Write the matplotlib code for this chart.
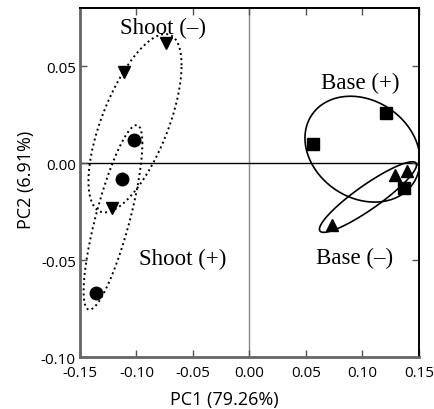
import numpy as np
import matplotlib
matplotlib.use("Agg")
import matplotlib.pyplot as plt

# PCA scores
shoot_minus_x = [-0.074, -0.111, -0.122]
shoot_minus_y = [0.062, 0.047, -0.023]
shoot_plus_x = [-0.102, -0.113, -0.136]
shoot_plus_y = [0.012, -0.008, -0.067]
base_plus_x = [0.121, 0.056, 0.137]
base_plus_y = [0.026, 0.010, -0.013]
base_minus_x = [0.129, 0.139, 0.073]
base_minus_y = [-0.006, -0.004, -0.032]

# group ellipses: centre x, centre y, half-extent x, half-extent y, correlation
ell_cx = [-0.1013, -0.1208, 0.1000, 0.1049]
ell_cy = [0.0206, -0.0280, 0.0072, -0.0175]
ell_rx = [0.0412, 0.0260, 0.0509, 0.0430]
ell_ry = [0.0460, 0.0476, 0.0273, 0.0182]
ell_rho = [0.65, 0.80, -0.21, 0.91]
ell_style = [":", ":", "-", "-"]

group_labels = ["Shoot (\u2013)", "Shoot (+)", "Base (+)", "Base (\u2013)"]
label_x = [-0.0765, -0.0588, 0.0978, 0.0934]
label_y = [0.0700, -0.0490, 0.0418, -0.0485]

x_ticks = [-0.15, -0.10, -0.05, 0.00, 0.05, 0.10, 0.15]
y_ticks = [-0.10, -0.05, 0.00, 0.05]

fig = plt.figure(figsize=(4.34, 4.10), dpi=100)
ax = fig.add_axes([0.1843, 0.1268, 0.7811, 0.8512])

ax.axvline(0, color="#888888", lw=1.0, zorder=1)
ax.axhline(0, color="black", lw=1.0, zorder=1)

t = np.linspace(0, 2 * np.pi, 300)
for cx, cy, rx, ry, rho, ls in zip(ell_cx, ell_cy, ell_rx, ell_ry, ell_rho, ell_style):
    ex = cx + rx * np.cos(t)
    ey = cy + ry * (rho * np.cos(t) + np.sqrt(1 - rho ** 2) * np.sin(t))
    ax.plot(ex, ey, color="black", ls=ls, lw=1.4 if ls == ":" else 1.2, zorder=2)

ax.plot(shoot_minus_x, shoot_minus_y, "v", color="black", ms=9, zorder=3)
ax.plot(shoot_plus_x, shoot_plus_y, "o", color="black", ms=9, zorder=3)
ax.plot(base_plus_x, base_plus_y, "s", color="black", ms=8, zorder=3)
ax.plot(base_minus_x, base_minus_y, "^", color="black", ms=9, zorder=3)

for lab, lx, ly in zip(group_labels, label_x, label_y):
    ax.text(lx, ly, lab, family="Liberation Serif", fontsize=16.5,
            ha="center", va="center", zorder=4)

ax.set_xlim(-0.15, 0.15)
ax.set_ylim(-0.10, 0.08)
ax.set_xticks(x_ticks)
ax.set_yticks(y_ticks)
ax.set_xticklabels([f"{v:.2f}" for v in x_ticks], family="Open Sans", fontsize=11)
ax.set_yticklabels([f"{v:.2f}" for v in y_ticks], family="Open Sans", fontsize=11)
ax.tick_params(direction="in", length=5, width=1, colors="#555555",
               labelcolor="black", top=True, right=True)
ax.tick_params(axis="x", pad=6)
ax.tick_params(axis="y", pad=3)

for side in ["left", "bottom"]:
    ax.spines[side].set_color("#666666")
    ax.spines[side].set_linewidth(2)
for side in ["top", "right"]:
    ax.spines[side].set_color("black")
    ax.spines[side].set_linewidth(1.4)

fig.text(224 / 434, 1 - 400 / 410, "PC1 (79.26%)", family="Open Sans",
         fontsize=13, ha="center", va="center")
fig.text(26 / 434, 1 - 180 / 410, "PC2 (6.91%)", family="Open Sans",
         fontsize=13, ha="center", va="center", rotation=90)

fig.savefig("out.png", dpi=100)
